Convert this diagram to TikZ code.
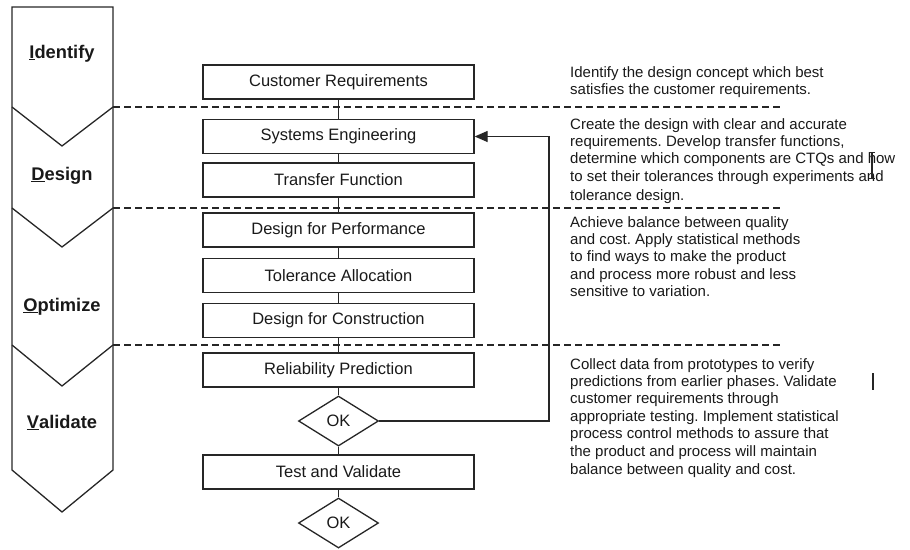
\documentclass[tikz,border=0pt]{standalone}
\usepackage{fontspec}
\setmainfont{Liberation Sans}
\usetikzlibrary{shapes.geometric,arrows.meta}
\frenchspacing
\begin{document}
\begin{tikzpicture}[x=1pt,y=-1pt,
  ink/.style={draw=black!85,line width=1.3pt},
  stepbox/.style={ink,minimum width=271pt,minimum height=34pt,inner sep=0pt,
    text=black!90,font=\fontsize{16.5}{18}\selectfont},
  decision/.style={ink,diamond,minimum width=80pt,minimum height=50pt,inner sep=0pt,
    text=black!90,font=\fontsize{16.5}{18}\selectfont},
  phase/.style={inner sep=0pt,anchor=base,text=black!90,
    font=\bfseries\fontsize{18.3}{20}\selectfont},
  desc/.style={inner sep=0pt,anchor=base west,text=black!90,
    font=\fontsize{15}{17.4}\selectfont},
  divider/.style={draw=black!85,line width=1.2pt,dash pattern=on 7pt off 4pt},
  flow/.style={ink}]
\useasboundingbox (0,0) rectangle (910,549);

% phase column with chevron separators
\draw[ink,line join=miter] (12,7) -- (113,7) -- (113,470) -- (62,512) -- (12,470) -- cycle;
\draw[ink] (12,107) -- (62,146) -- (113,107);
\draw[ink] (12,208) -- (62,247) -- (113,208);
\draw[ink] (12,345) -- (62,386) -- (113,345);

\node[phase] (pI) at (62,58)  {\underline{I}dentify};
\node[phase] (pD) at (62,180) {\underline{D}esign};
\node[phase] (pO) at (62,311) {\underline{O}ptimize};
\node[phase] (pV) at (62,428) {\underline{V}alidate};

% phase boundaries
\coordinate (b1s) at (113,107); \coordinate (b1e) at (780,107);
\coordinate (b2s) at (113,208); \coordinate (b2e) at (780,208);
\coordinate (b3s) at (113,345); \coordinate (b3e) at (780,345);
\draw[divider] (b1s) -- (b1e);
\draw[divider] (b2s) -- (b2e);
\draw[divider] (b3s) -- (b3e);

% process steps
\node[stepbox] (cr)  at (338.5,82)    {Customer Requirements};
\node[stepbox] (se)  at (338.5,136.5) {Systems Engineering};
\node[stepbox] (tf)  at (338.5,180)   {Transfer Function};
\node[stepbox] (dfp) at (338.5,230)   {Design for Performance};
\node[stepbox] (ta)  at (338.5,275.5) {Tolerance Allocation};
\node[stepbox] (dfc) at (338.5,320.5) {Design for Construction};
\node[stepbox] (rp)  at (338.5,370)   {Reliability Prediction};
\node[decision] (ok1) at (338.5,421)  {OK};
\node[stepbox] (tv)  at (338.5,472)   {Test and Validate};
\node[decision] (ok2) at (338.5,523)  {OK};

\draw[flow] (cr) -- (se);
\draw[flow] (se) -- (tf);
\draw[flow] (tf) -- (dfp);
\draw[flow] (dfp) -- (ta);
\draw[flow] (ta) -- (dfc);
\draw[flow] (dfc) -- (rp);
\draw[flow] (rp) -- (ok1);
\draw[flow] (ok1) -- (tv);
\draw[flow] (tv) -- (ok2);

% loop back from the first check
\coordinate (loop) at (549,0);
\draw[flow,-{Triangle[length=13pt,width=11pt]}]
  (ok1.east) -- (ok1.east -| loop) -- (se.east -| loop) -- (se.east);

% phase descriptions
\foreach \yy/\tt in {77/{Identify the design concept which best},
                     94/{satisfies the customer requirements.},
                     129/{Create the design with clear and accurate},
                     146.4/{requirements. Develop transfer functions,},
                     163.8/{determine which components are CTQs and how},
                     181.2/{to set their tolerances through experiments and},
                     200/{tolerance design.},
                     227/{Achieve balance between quality},
                     244.4/{and cost. Apply statistical methods},
                     261.8/{to find ways to make the product},
                     279.2/{and process more robust and less},
                     296.6/{sensitive to variation.},
                     369/{Collect data from prototypes to verify},
                     386.4/{predictions from earlier phases. Validate},
                     403.8/{customer requirements through},
                     421.2/{appropriate testing. Implement statistical},
                     438.6/{process control methods to assure that},
                     456/{the product and process will maintain},
                     474/{balance between quality and cost.}}
  \node[desc] (d\yy) at (570,\yy) {\tt};

% text cursor marks
\draw[black!85,line width=1.2pt] (872,152) -- (872,178);
\draw[black!85,line width=0.8pt] (869,152) -- (875,152) (869,178) -- (875,178);
\draw[black!85,line width=1.6pt] (873,373) -- (873,390);
\end{tikzpicture}
\end{document}
